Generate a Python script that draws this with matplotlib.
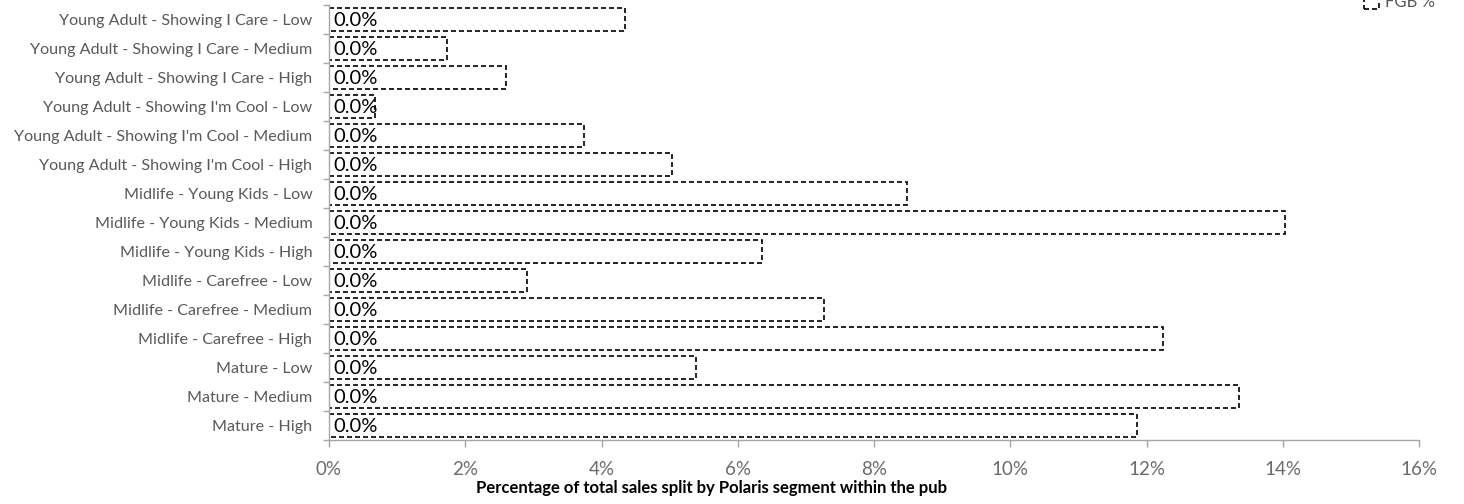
import matplotlib
matplotlib.use("Agg")
import matplotlib.pyplot as plt
from matplotlib.patches import Patch
from matplotlib.ticker import FixedLocator, FuncFormatter

categories = [
    "Young Adult - Showing I Care - Low",
    "Young Adult - Showing I Care - Medium",
    "Young Adult - Showing I Care - High",
    "Young Adult - Showing I'm Cool - Low",
    "Young Adult - Showing I'm Cool - Medium",
    "Young Adult - Showing I'm Cool - High",
    "Midlife - Young Kids - Low",
    "Midlife - Young Kids - Medium",
    "Midlife - Young Kids - High",
    "Midlife - Carefree - Low",
    "Midlife - Carefree - Medium",
    "Midlife - Carefree - High",
    "Mature - Low",
    "Mature - Medium",
    "Mature - High",
]
fgb_pct = [4.34, 1.73, 2.60, 0.68, 3.75, 5.03, 8.49, 14.04, 6.36, 2.90,
           7.27, 12.24, 5.39, 13.36, 11.86]
bar_labels = ["0.0%"] * len(categories)
x_ticks = [0, 2, 4, 6, 8, 10, 12, 14, 16]
series_name = "FGB %"
x_title = "Percentage of total sales split by Polaris segment within the pub"

plt.rcParams['font.family'] = ['Lato', 'DejaVu Sans']

fig = plt.figure(figsize=(14.64, 5.04), dpi=100)
ax = fig.add_axes([329/1464, 64/504, (1419-329)/1464, (499-64)/504])

y = list(range(len(categories)))
dash = (0, (3, 1.8))
ax.barh(y, fgb_pct, height=0.8, color='white', edgecolor='black',
        linewidth=1.2, linestyle=dash)

for yi, lab in zip(y, bar_labels):
    ax.text(0.07, yi + 0.05, lab, ha='left', va='center', fontsize=14.5, color='black')

ax.set_ylim(len(categories) - 0.5, -0.5)
ax.set_xlim(0, 16)
ax.set_yticks(y)
ax.set_yticklabels(categories, fontsize=11.6, color='#595959')
ax.yaxis.set_minor_locator(FixedLocator([i - 0.5 for i in range(len(categories) + 1)]))
ax.tick_params(axis='y', which='major', length=0, pad=12)
ax.tick_params(axis='y', which='minor', length=4, color='#A6A6A6', width=1)

ax.set_xticks(x_ticks)
ax.xaxis.set_major_formatter(FuncFormatter(lambda v, p: f"{v:.0f}%"))
ax.tick_params(axis='x', which='major', length=5, color='#A6A6A6', width=1,
               labelsize=13.5, labelcolor='#6b6b6b', pad=10)

for s in ['top', 'right']:
    ax.spines[s].set_visible(False)
for s in ['left', 'bottom']:
    ax.spines[s].set_color('#A6A6A6')
    ax.spines[s].set_linewidth(1)

fig.text(712/1464, 1 - 488/504, x_title, ha='center', va='center',
         fontsize=12, fontweight='bold', color='black')

handle = Patch(facecolor='white', edgecolor='black', linestyle=dash, linewidth=1.2)
fig.legend(handles=[handle], labels=[series_name], loc='center left',
           bbox_to_anchor=(1356/1464, 1 - 2/504), frameon=False, fontsize=12,
           handlelength=0.85, handleheight=1.0, handletextpad=0.4,
           borderpad=0, labelcolor='#595959')

fig.savefig("out.png", dpi=100)
